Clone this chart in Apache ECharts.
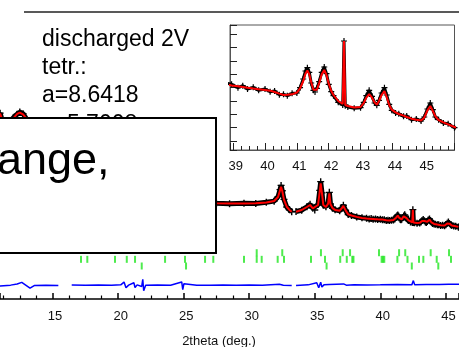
<!DOCTYPE html>
<html><head><meta charset="utf-8">
<script src="https://cdn.jsdelivr.net/npm/echarts@6/dist/echarts.min.js"></script>
<style>html,body{margin:0;padding:0;background:#fff}#c{width:459px;height:347px}</style>
</head><body><div id="c"></div>
<script>
// ---------- data ----------
const twoTheta = [10.0,10.5,10.85,11.0,11.15,11.4,11.7,12.0,12.3,12.5,12.75,13.0,13.3,13.6,14.0,14.5,15.0,15.4,16.0,16.5,17.17,17.65,18.5,19.5,20.66,21.3,21.8,22.5,23.6,24.5,25.1,26.0,26.6,27.3,27.5,28.5,29.6,30.5,31.3,31.9,32.2,32.35,32.43,32.52,32.65,32.86,33.05,33.24,33.4,33.57,34.0,34.4,34.64,34.85,35.0,35.25,35.38,35.45,35.55,35.65,35.85,36.02,36.11,36.2,36.35,36.55,36.9,37.05,37.18,37.35,37.55,37.8,38.2,38.6,38.95,39.15,39.3,39.45,39.63,39.8,40.0,40.16,40.3,40.45,40.58,40.7,40.85,41.0,41.1,41.2,41.27,41.33,41.39,41.45,41.52,41.57,41.63,41.7,41.78,41.86,41.93,42.0,42.08,42.15,42.3,42.44,42.48,42.52,42.6,42.8,43.0,43.1,43.18,43.27,43.36,43.44,43.51,43.58,43.66,43.75,43.82,43.9,43.98,44.1,44.2,44.35,44.45,44.6,44.75,44.9,45.0,45.1,45.19,45.27,45.35,45.45,45.6,45.75,45.95,46.0];
const yCalc = [10100,10050,10300,10700,10250,9950,10050,10350,10680,10780,10650,10350,10050,9750,9400,8900,8400,8100,null,7500,7350,7150,6700,6300,5900,5720,5650,5300,5000,4700,4650,4400,4250,4050,3980,3960,3965,3975,4040,4150,4450,4950,5220,4900,4250,3720,3500,3350,null,3350,3475,3700,3850,3600,3480,3850,4900,5480,4700,3850,3700,3950,4730,3900,3620,3480,3420,3600,3780,3450,3150,3060,2960,2880,2832,2820,2810,2800,2787,2775,2765,2755,2735,2710,2690,2692,2700,2727,2790,2900,3010,3057,3000,2880,2770,2745,2770,2870,3000,3065,2990,2860,2750,2690,2600,2555,3500,2540,2525,2502,2510,2570,2650,2705,2650,2580,2545,2600,2690,2750,2660,2540,2470,2430,2405,2380,2360,2335,2318,2307,2350,2460,2525,2450,2370,2315,2280,2250,2210,2200];
const yObs = [10120,10030,10330,10740,10230,9970,10030,10390,10660,10820,10700,10310,10020,9770,9380,8930,8390,8110,null,7520,7380,7130,6720,6280,5930,5700,5690,5310,4980,4720,4690,4390,4270,4040,3990,3950,3980,3960,4050,4140,4480,5000,5320,4920,4270,3700,3510,3340,null,3360,3460,3720,3900,3610,3470,3880,4950,5600,4760,3840,3720,3990,4800,3920,3610,3490,3410,3630,3830,3460,3140,3070,2950,2890,2850,2800,2830,2780,2805,2760,2780,2740,2750,2695,2700,2680,2715,2720,2800,2930,3050,3100,3030,2870,2760,2735,2790,2890,3030,3110,3010,2850,2740,2680,2580,2540,3500,2530,2510,2490,2500,2580,2680,2760,2670,2570,2535,2610,2720,2800,2690,2550,2460,2420,2410,2370,2375,2320,2330,2300,2360,2480,2570,2470,2360,2320,2270,2260,2200,2190];
const diffTheta = [10.0,11.0,11.8,12.3,12.65,12.95,13.28,13.6,14.5,15.44,16.0,16.46,17.5,18.5,19.5,20.2,20.45,20.6,20.8,21.2,21.29,21.45,21.8,21.88,21.95,22.1,23.0,24.0,24.85,24.93,25.02,25.15,26.0,27.0,28.0,29.0,30.0,31.0,32.3,32.43,32.6,33.24,33.4,33.57,34.5,35.15,35.3,35.45,35.54,35.7,36.1,37.2,37.4,38.0,39.0,40.0,41.3,42.4,42.52,42.62,43.5,44.5,45.2,46.0];
const diffValues = [20,-30,40,120,250,40,-190,10,30,10,null,50,30,50,40,60,270,-150,40,220,-140,60,-60,480,-380,40,50,30,280,-300,150,20,40,30,50,30,50,40,110,-40,30,20,null,10,60,220,-150,260,-100,60,90,130,40,60,50,60,90,60,380,60,80,90,110,110];
const reflPhaseA = [30.57,32.52,35.47,37.13,37.69,39.9,41.43,41.9,43.84,45.24];
const reflPhaseB = [17.17,17.65,19.76,20.66,21.29,23.58,25.1,26.63,27.26,29.6,30.57,30.95,32.17,32.65,34.71,35.78,36.94,37.44,37.86,37.95,40.1,40.2,40.3,41.3,42.07,42.95,43.28,44.3,45.39];
const reflPhaseC = [21.8,25.18,35.9,42.4,44.42];
const mainTickLabels = [15,20,25,30,35,40,45];
const insetTickLabels = [39,40,41,42,43,44,45];
const infoLines = ['discharged 2V','tetr.:','a=8.6418','c=5.7008'];
const boxText = 'ange,';
const xAxisTitle = '2theta (deg.)';

// ---------- layout / style constants ----------
const DIFF_OFFSET = -2200;
const LEVEL_A = 270, LEVEL_B = -225, LEVEL_C = -725;
const PLUS = 'path://M4,0H6V4H10V6H6V10H4V6H0V4H4Z';
const LBL = {fontFamily:'"Liberation Sans", Arial, sans-serif', fontSize:13, color:'#111'};

const pair = (xs, ys) => xs.map((x,i)=>[x, ys[i]===null ? '-' : ys[i]]);
const obsPairs = pair(twoTheta, yObs);
const calcPairs = pair(twoTheta, yCalc);
const diffPairs = diffTheta.map((x,i)=>[x, diffValues[i]===null ? '-' : DIFF_OFFSET + diffValues[i]]);
const refl = (arr, lvl) => arr.map(t=>[t, lvl]);

const chart = echarts.init(document.getElementById('c'), null, {renderer:'canvas'});
const option = {
  animation:false,
  backgroundColor:'#fff',
  grid:[
    {left:0, right:0, top:11, bottom:48, outerBoundsMode:'none', containLabel:false},
    {left:230, top:25, width:224.5, height:125, show:true, backgroundColor:'#fff', borderColor:'#555', borderWidth:1, outerBoundsMode:'none', containLabel:false}
  ],
  xAxis:[
    {gridIndex:0, type:'value', min:10.99, max:46.0, splitNumber:7,
     axisLine:{show:true, onZero:false, lineStyle:{color:'#000', width:1.5}},
     axisTick:{show:true, inside:true, length:6, lineStyle:{color:'#000', width:1.5}},
     minorTick:{show:true, splitNumber:4, length:3.5, lineStyle:{color:'#000', width:1.2}},
     splitLine:{show:false}, minorSplitLine:{show:false},
     axisLabel:Object.assign({margin:11, padding:[0,0,0,5], showMinLabel:false, showMaxLabel:false,
        formatter:v=>mainTickLabels.includes(v)?String(v):''}, LBL),
     name:xAxisTitle, nameLocation:'middle', nameGap:36,
     nameTextStyle:Object.assign({padding:[0,21,0,0]}, LBL)},
    {gridIndex:1, type:'value', min:38.9, max:45.95, splitNumber:7,
     axisLine:{show:true, onZero:false, lineStyle:{color:'#555', width:1}},
     axisTick:{show:true, inside:true, length:7, lineStyle:{color:'#222', width:1}},
     minorTick:{show:true, splitNumber:4, length:4, lineStyle:{color:'#222', width:1}},
     splitLine:{show:false}, minorSplitLine:{show:false},
     axisLabel:Object.assign({margin:10, padding:[0,0,0,5], showMinLabel:false, showMaxLabel:false,
        formatter:v=>insetTickLabels.includes(v)?String(v):''}, LBL)}
  ],
  yAxis:[
    {gridIndex:0, type:'value', min:-3200, max:18400, show:false},
    {gridIndex:1, type:'value', min:1865, max:3740, splitNumber:9,
     axisLine:{show:true, onZero:false, lineStyle:{color:'#555', width:1}},
     axisTick:{show:true, inside:true, length:7, lineStyle:{color:'#222', width:1}},
     axisLabel:{show:false}, splitLine:{show:false}}
  ],
  series:[
    {type:'line', name:'obs', xAxisIndex:0, yAxisIndex:0, data:obsPairs, z:2, clip:true,
     lineStyle:{color:'#000', width:5}, symbol:PLUS, symbolSize:7, showSymbol:true,
     itemStyle:{color:'#000'}, silent:true},
    {type:'line', name:'calc', xAxisIndex:0, yAxisIndex:0, data:calcPairs, z:3, clip:true,
     lineStyle:{color:'#ff0000', width:2}, symbol:'none', silent:true},
    {type:'line', name:'diff', xAxisIndex:0, yAxisIndex:0, data:diffPairs, z:3, clip:true,
     lineStyle:{color:'#0000ff', width:1.5}, symbol:'none', silent:true},
    {type:'scatter', xAxisIndex:0, yAxisIndex:0, data:refl(reflPhaseA, LEVEL_A), symbol:'rect', symbolSize:[2,7], itemStyle:{color:'#22e622'}, silent:true},
    {type:'scatter', xAxisIndex:0, yAxisIndex:0, data:refl(reflPhaseB, LEVEL_B), symbol:'rect', symbolSize:[2,7], itemStyle:{color:'#22e622'}, silent:true},
    {type:'scatter', xAxisIndex:0, yAxisIndex:0, data:refl(reflPhaseC, LEVEL_C), symbol:'rect', symbolSize:[2,7], itemStyle:{color:'#22e622'}, silent:true},
    {type:'line', name:'obs inset', xAxisIndex:1, yAxisIndex:1, data:obsPairs, z:2, clip:true,
     lineStyle:{color:'#000', width:3}, symbol:PLUS, symbolSize:6, showSymbol:true,
     itemStyle:{color:'#000'}, silent:true},
    {type:'line', name:'calc inset', xAxisIndex:1, yAxisIndex:1, data:calcPairs, z:3, clip:true,
     lineStyle:{color:'#ff0000', width:2}, symbol:'none', silent:true}
  ],
  graphic:[
    {type:'line', shape:{x1:24,y1:12,x2:470,y2:12}, style:{stroke:'#222', lineWidth:1.5}, z:50},
    ...infoLines.map((t,i)=>({type:'text', x:42, y:28 + i*28.3, z:60,
        style:{text:t, font:'23px "Liberation Sans", Arial, sans-serif', fill:'#000', verticalAlign:'top'}})),
    {type:'rect', shape:{x:-5,y:118,width:221,height:135}, style:{fill:'#fff', stroke:'#000', lineWidth:2}, z:100},
    {type:'text', x:-3, y:139, z:110,
     style:{text:boxText, font:'45px "Liberation Sans", Arial, sans-serif', fill:'#000', verticalAlign:'top'}}
  ]
};
chart.setOption(option);
</script>
</body></html>
